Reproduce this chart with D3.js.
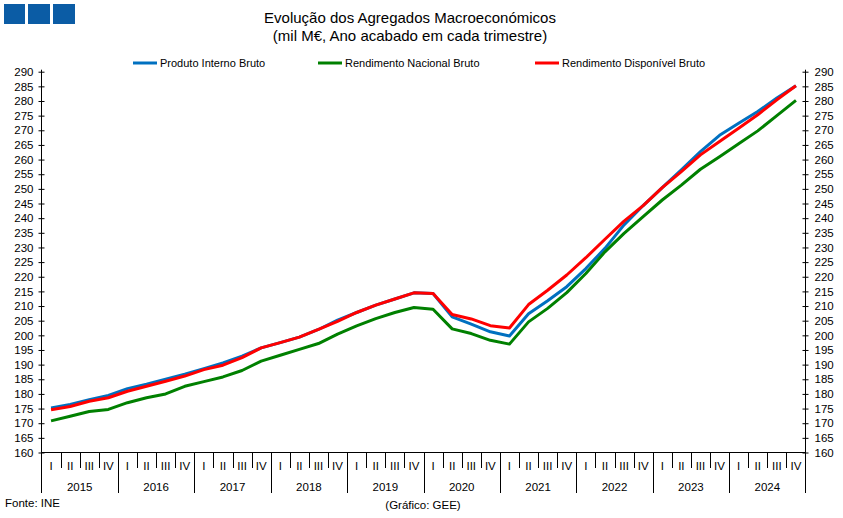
<!DOCTYPE html>
<html>
<head>
<meta charset="utf-8">
<style>
    body { margin: 0; background: #fff; }
    svg text { font-family: "Liberation Sans", Arial, sans-serif; fill: #000; }
</style>
<script src="https://cdn.jsdelivr.net/npm/d3@7"></script>
</head>
<body>
<div id="chart"></div>
<script>
    // data (mil M€)
    var years = ['2015','2016','2017','2018','2019','2020','2021','2022','2023','2024'];
    var quarters = ['I','II','III','IV'];
    var pib = [175.2,176.4,178.0,179.5, 181.8,183.3,185.0,186.7, 188.6,190.6,192.9,195.7,
               197.5,199.4,202.0,205.2, 207.8,210.3,212.4,214.5, 214.3,206.3,203.8,201.2,
               199.8,207.4,211.8,216.6, 222.8,229.7,237.7,244.3, 250.4,256.5,262.7,268.3,
               272.4,276.4,281.0,285.2];
    var rnb = [170.8,172.4,174.0,174.7, 177.0,178.7,180.0,182.6, 184.2,185.8,188.0,191.2,
               193.2,195.2,197.2,200.4, 203.2,205.7,207.8,209.5, 208.9,202.2,200.6,198.3,
               197.0,204.6,209.2,214.6, 221.1,228.5,234.8,240.5, 246.2,251.3,256.7,261.0,
               265.4,269.8,275.0,280.2];
    var rdb = [174.6,175.7,177.5,178.7, 180.9,182.6,184.3,186.1, 188.3,189.8,192.4,195.7,
               197.5,199.4,202.0,204.8, 207.8,210.3,212.4,214.5, 214.3,207.1,205.6,203.3,
               202.5,210.5,215.4,220.6, 226.5,232.8,239.0,244.3, 250.4,255.9,261.6,266.2,
               270.7,275.3,280.4,285.2];
    var seriesNames = ['Produto Interno Bruto','Rendimento Nacional Bruto','Rendimento Disponível Bruto'];
    var seriesColors = ['#0070C0','#008000','#FF0000'];
    var yTicks = d3.range(160, 291, 5);

    var width = 843, height = 518;
    var plotL = 41.5, plotR = 805.5, plotT = 71.7, plotB = 452.5;

    var svg = d3.select('#chart').append('svg')
        .attr('width', width)
        .attr('height', height);

    // logo squares
    [4, 28, 53].forEach(function (xx, i) {
        svg.append('rect')
            .attr('x', xx).attr('y', 4)
            .attr('width', i == 0 ? 21 : 22).attr('height', 20)
            .attr('fill', '#0B5CA5');
    });

    svg.append('text').attr('x', 410).attr('y', 23)
        .attr('text-anchor', 'middle').attr('font-size', 15)
        .text('Evolução dos Agregados Macroeconómicos');
    svg.append('text').attr('x', 410).attr('y', 41)
        .attr('text-anchor', 'middle').attr('font-size', 15)
        .text('(mil M€, Ano acabado em cada trimestre)');

    var cats = [];
    years.forEach(function (yr) {
        quarters.forEach(function (q) { cats.push(yr + '-' + q); });
    });

    var x = d3.scaleBand().domain(cats).range([plotL, plotR]);
    var y = d3.scaleLinear().domain([160, 290]).range([plotB, plotT]);

    // y axes
    var yAxisL = d3.axisLeft(y).tickValues(yTicks).tickSize(3).tickPadding(6);
    var yAxisR = d3.axisRight(y).tickValues(yTicks).tickSize(3).tickPadding(6);

    var gL = svg.append('g').attr('transform', 'translate(' + plotL + ',0)').call(yAxisL);
    var gR = svg.append('g').attr('transform', 'translate(' + plotR + ',0)').call(yAxisR);
    [gL, gR].forEach(function (g, k) {
        g.select('.domain').remove();
        g.selectAll('.tick line')
            .attr('x1', -3).attr('x2', 3)
            .attr('stroke', '#000');
        g.selectAll('.tick text')
            .attr('font-size', 11.5)
            .attr('font-family', '"Liberation Sans", Arial, sans-serif')
            .attr('x', k == 0 ? -8 : 9);
    });

    svg.append('line').attr('x1', plotL).attr('x2', plotL)
        .attr('y1', plotT - 2).attr('y2', 493).attr('stroke', '#000');
    svg.append('line').attr('x1', plotR).attr('x2', plotR)
        .attr('y1', plotT - 2).attr('y2', 493).attr('stroke', '#000');
    svg.append('line').attr('x1', plotL).attr('x2', plotR)
        .attr('y1', plotB).attr('y2', plotB).attr('stroke', '#000');

    // category axis: quarters and years
    cats.forEach(function (c, i) {
        var x0 = Math.round(x(c)) + 0.5;
        if (i > 0) {
            var isYear = i % 4 == 0;
            svg.append('line')
                .attr('x1', x0).attr('x2', x0)
                .attr('y1', plotB).attr('y2', isYear ? 493 : 468)
                .attr('stroke', '#000');
        }
        svg.append('text')
            .attr('x', x(c) + x.bandwidth() / 2).attr('y', 470)
            .attr('text-anchor', 'middle').attr('font-size', 11.5)
            .text(quarters[i % 4]);
    });
    years.forEach(function (yr) {
        var x0 = x(yr + '-I'), x1 = x(yr + '-IV') + x.bandwidth();
        svg.append('text')
            .attr('x', (x0 + x1) / 2).attr('y', 491)
            .attr('text-anchor', 'middle').attr('font-size', 11.5)
            .text(yr);
    });

    // lines
    var line = d3.line()
        .x(function (d, i) { return x(cats[i]) + x.bandwidth() / 2; })
        .y(function (d) { return y(d); });

    [pib, rnb, rdb].forEach(function (s, k) {
        svg.append('path')
            .datum(s)
            .attr('d', line)
            .attr('fill', 'none')
            .attr('stroke', seriesColors[k])
            .attr('stroke-width', 3)
            .attr('stroke-linejoin', 'round');
    });

    // legend
    var legendX = [133, 318, 535];
    seriesNames.forEach(function (n, k) {
        svg.append('line')
            .attr('x1', legendX[k]).attr('x2', legendX[k] + 24)
            .attr('y1', 63).attr('y2', 63)
            .attr('stroke', seriesColors[k]).attr('stroke-width', 3);
        svg.append('text')
            .attr('x', legendX[k] + 27).attr('y', 67)
            .attr('font-size', 11)
            .text(n);
    });

    svg.append('text').attr('x', 5).attr('y', 507)
        .attr('font-size', 11.5).text('Fonte: INE');
    svg.append('text').attr('x', 423).attr('y', 509)
        .attr('text-anchor', 'middle').attr('font-size', 11.5)
        .text('(Gráfico: GEE)');
</script>
</body>
</html>
